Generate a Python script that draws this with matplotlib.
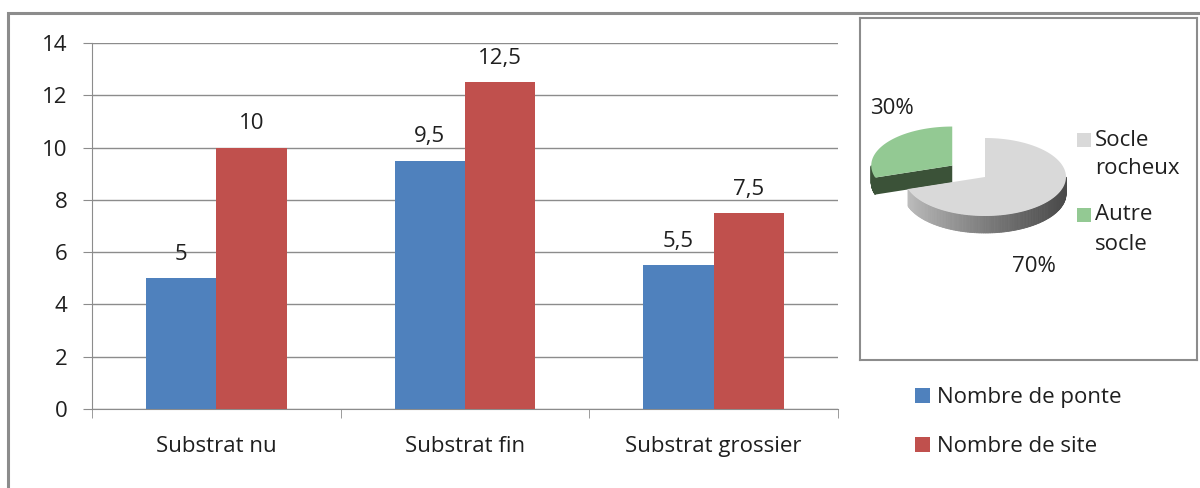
import matplotlib
import numpy as np

matplotlib.use('Agg')
import matplotlib.pyplot as plt
from matplotlib.patches import Polygon, Rectangle
from matplotlib.colors import to_rgb

plt.rcParams['font.family'] = ['Open Sans', 'DejaVu Sans']

# données
categories = ['Substrat nu', 'Substrat fin', 'Substrat grossier']
ponte = [5, 9.5, 5.5]
site = [10, 12.5, 7.5]
series_names = ['Nombre de ponte', 'Nombre de site']

pie_labels = ['Socle\nrocheux', 'Autre\nsocle']
pie_values = [70, 30]

BLUE = '#4F81BD'
RED = '#C0504D'
GRID = '#8C8C8C'
TXT = '#1F1F1F'
FS = 16

W, H = 1200, 488
fig = plt.figure(figsize=(W / 100, H / 100), dpi=100)

# cadre extérieur
fig.patches.append(Rectangle((8 / W, -0.1), 1.2, 1 - 13 / H + 0.1, transform=fig.transFigure,
                             fill=False, edgecolor=GRID, linewidth=2.2))

# histogramme
ax = fig.add_axes([92 / W, 1 - 409 / H, 746 / W, 366 / H])
x = np.arange(len(categories))
bw = 0.283
b1 = ax.bar(x - bw / 2, ponte, bw, color=BLUE, label=series_names[0], zorder=3)
b2 = ax.bar(x + bw / 2, site, bw, color=RED, label=series_names[1], zorder=3)

fmt = lambda v: f'{v:g}'.replace('.', ',')
ax.bar_label(b1, labels=[fmt(v) for v in ponte], padding=9.5, fontsize=FS, color=TXT)
ax.bar_label(b2, labels=[fmt(v) for v in site], padding=9.5, fontsize=FS, color=TXT)

ax.set_xlim(-0.5, len(categories) - 0.5)
ax.set_ylim(0, 14)
ax.set_yticks(range(0, 15, 2))
ax.yaxis.grid(True, color=GRID, linewidth=1, zorder=0)
ax.set_xticks(x)
ax.set_xticklabels(categories)
ax.set_xticks(np.arange(-0.5, len(categories)), minor=True)
ax.tick_params(axis='x', which='major', length=0, pad=19.5, labelsize=FS, labelcolor=TXT)
ax.tick_params(axis='x', which='minor', length=6.5, color=GRID, direction='out')
ax.tick_params(axis='y', length=6.5, color=GRID, pad=11, labelsize=FS, labelcolor=TXT)
for s in ['top', 'right']:
    ax.spines[s].set_visible(False)
for s in ['left', 'bottom']:
    ax.spines[s].set_color(GRID)
ax.set_axisbelow(True)

fig.legend(handles=[b1, b2], loc='upper left', bbox_to_anchor=(915 / W, 1 - 387 / H),
           frameon=False, fontsize=FS, handlelength=0.68, handleheight=0.68,
           handletextpad=0.3, labelspacing=1.27, borderaxespad=0, borderpad=0,
           labelcolor=TXT)

# camembert 3D dans l'encadré
px = fig.add_axes([860 / W, 1 - 360 / H, 337 / W, 342 / H])
px.set_xlim(860, 1197)
px.set_ylim(360, 18)
px.set_xticks([])
px.set_yticks([])
for s in px.spines.values():
    s.set_color(GRID)
    s.set_linewidth(1.5)

cx, cy, a, b, d = 985, 177, 81, 39, 17
explode = [0, 0.5]
tops = ['#D9D9D9', '#93C993']
sides = ['#D9D9D9', '#3B5238']


def pt(x0, y0, t, dy=0):
    return x0 + a * np.cos(t), y0 - b * np.sin(t) + dy


# angles des parts (départ à 90°, sens horaire)
bounds = 90 - 360 * np.cumsum([0] + pie_values) / sum(pie_values)
slices = []
for i in range(len(pie_values)):
    t0, t1 = np.radians(bounds[i + 1]), np.radians(bounds[i])
    mid = (t0 + t1) / 2
    ox = cx + explode[i] * a * np.cos(mid)
    oy = cy - explode[i] * b * np.sin(mid)
    slices.append((t0, t1, ox, oy))

# ordre: part verte (arrière) puis part grise (avant)
for i in [1, 0]:
    t0, t1, ox, oy = slices[i]
    ts = np.linspace(t0, t1, 200)
    if i == 1:
        # face de coupe visible
        rx, ry = pt(ox, oy, t1)
        px.add_patch(Polygon([(ox, oy), (rx, ry), (rx, ry + d), (ox, oy + d)],
                             closed=True, facecolor=sides[i], edgecolor='none'))
    # paroi extérieure visible (dégradé pour le gris)
    for j in range(len(ts) - 1):
        tm = (ts[j] + ts[j + 1]) / 2
        if np.sin(tm) >= 0:
            continue
        xa, ya = pt(ox, oy, ts[j])
        xb, yb = pt(ox, oy, ts[j + 1])
        if i == 0:
            f = (np.cos(tm) + 1) / 2
            c0, c1 = np.array(to_rgb('#C4C4C4')), np.array(to_rgb('#4A4A4A'))
            col = c0 + (c1 - c0) * f ** 0.8
        else:
            col = sides[i]
        px.add_patch(Polygon([(xa, ya), (xb, yb), (xb, yb + d), (xa, ya + d)], closed=True,
                             facecolor=col, edgecolor=col, linewidth=0.6))
    xs, ys = pt(ox, oy, ts)
    px.add_patch(Polygon(np.column_stack([np.r_[ox, xs], np.r_[oy, ys]]), closed=True,
                         facecolor=tops[i], edgecolor='none'))

px.text(892, 108, f'{pie_values[1]}%', fontsize=FS, ha='center', va='center', color=TXT)
px.text(1034, 267, f'{pie_values[0]}%', fontsize=FS, ha='center', va='center', color=TXT)

# légende du camembert
for lab, col, yy in zip(pie_labels, tops, [140, 215]):
    px.add_patch(Rectangle((1077, yy - 7), 14, 14, facecolor=col, edgecolor='none'))
    first, second = lab.split('\n')
    px.text(1095, yy, first, fontsize=FS, va='center', color=TXT)
    px.text(1095, yy + 29, second, fontsize=FS, va='center', color=TXT)

fig.savefig('out.png', dpi=100)
